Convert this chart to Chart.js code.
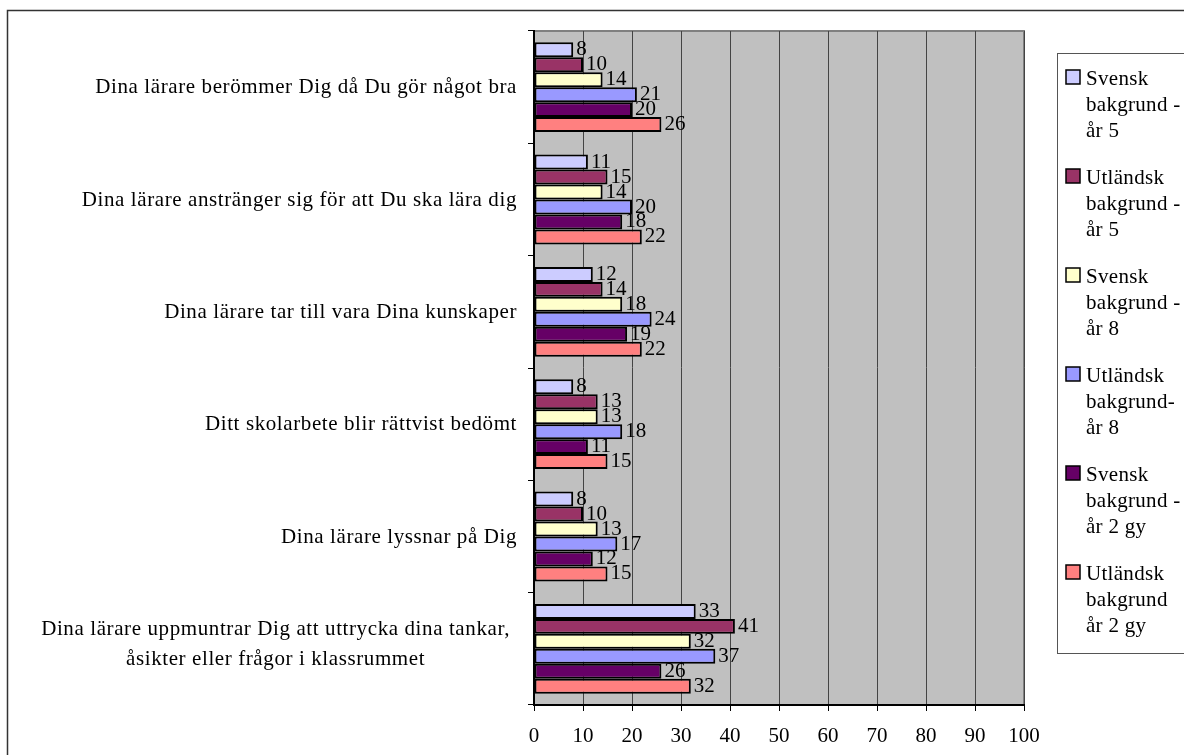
<!DOCTYPE html>
<html>
<head>
<meta charset="utf-8">
<script src="https://cdn.jsdelivr.net/npm/chart.js@4/dist/chart.umd.min.js"></script>
<style>
  html, body { margin: 0; padding: 0; background: #fff; }
  #wrap { width: 1184px; height: 755px; position: relative; }
</style>
</head>
<body>
<div id="wrap"><canvas id="chart"></canvas></div>
<script>
// Data
const categories = [
  ['Dina lärare berömmer Dig då Du gör något bra'],
  ['Dina lärare anstränger sig för att Du ska lära dig'],
  ['Dina lärare tar till vara Dina kunskaper '],
  ['Ditt skolarbete blir rättvist bedömt '],
  ['Dina lärare lyssnar på Dig'],
  ['Dina lärare uppmuntrar Dig att uttrycka dina tankar,', 'åsikter eller frågor i klassrummet']
];
const seriesNames = [
  ['Svensk', 'bakgrund -', 'år 5'],
  ['Utländsk', 'bakgrund -', 'år 5'],
  ['Svensk', 'bakgrund -', 'år 8'],
  ['Utländsk', 'bakgrund-', 'år 8'],
  ['Svensk', 'bakgrund -', 'år 2 gy'],
  ['Utländsk', 'bakgrund', 'år 2 gy']
];
const svenskAr5 = [8, 11, 12, 8, 8, 33];
const utlandskAr5 = [10, 15, 14, 13, 10, 41];
const svenskAr8 = [14, 14, 18, 13, 13, 32];
const utlandskAr8 = [21, 20, 24, 18, 17, 37];
const svenskGy2 = [20, 18, 19, 11, 12, 26];
const utlandskGy2 = [26, 22, 22, 15, 15, 32];
const xTicks = [0, 10, 20, 30, 40, 50, 60, 70, 80, 90, 100];

const seriesValues = [svenskAr5, utlandskAr5, svenskAr8, utlandskAr8, svenskGy2, utlandskGy2];
const colors = ['#CCCCFF', '#993366', '#FFFFCC', '#9999FF', '#660066', '#FF8080'];
const FONT = '"Liberation Serif", "Times New Roman", serif';

// Grey plot background + outer frame
const frame = {
  id: 'frame',
  beforeDraw(chart) {
    const ctx = chart.ctx, a = chart.chartArea;
    ctx.save();
    ctx.strokeStyle = '#333';
    ctx.lineWidth = 1.5;
    ctx.beginPath();
    ctx.moveTo(7.5, 760);
    ctx.lineTo(7.5, 10.5);
    ctx.lineTo(1190, 10.5);
    ctx.stroke();
    ctx.fillStyle = '#C0C0C0';
    ctx.fillRect(a.left, a.top, a.right - a.left, a.bottom - a.top);
    ctx.strokeStyle = '#808080';
    ctx.lineWidth = 2;
    ctx.strokeRect(a.left, a.top, a.right - a.left, a.bottom - a.top);
    ctx.restore();
  }
};

// Category labels: right-aligned block, lines centered within the block
const categoryLabels = {
  id: 'categoryLabels',
  afterDraw(chart) {
    const ctx = chart.ctx, y = chart.scales.y;
    ctx.save();
    ctx.font = '21px ' + FONT;
    ctx.letterSpacing = '0.6px';
    ctx.fillStyle = '#000';
    ctx.textAlign = 'center';
    ctx.textBaseline = 'alphabetic';
    categories.forEach((lines, i) => {
      const cy = y.getPixelForValue(i);
      const w = Math.max(...lines.map(l => ctx.measureText(l.trimEnd()).width));
      const right = lines.length > 1 ? 510 : 517;
      const cx = right - w / 2;
      const lh = 30;
      const first = cy + 6 - (lines.length - 1) * lh / 2 - (lines.length > 1 ? 5 : 0);
      lines.forEach((l, k) => ctx.fillText(l.trimEnd(), cx, first + k * lh));
    });
    ctx.restore();
  }
};

// Value labels at bar ends
const valueLabels = {
  id: 'valueLabels',
  afterDatasetsDraw(chart) {
    const ctx = chart.ctx;
    ctx.save();
    ctx.font = '21px ' + FONT;
    ctx.fillStyle = '#000';
    ctx.textBaseline = 'middle';
    ctx.textAlign = 'left';
    chart.data.datasets.forEach((ds, i) => {
      chart.getDatasetMeta(i).data.forEach((bar, j) => {
        ctx.fillText(String(ds.data[j]), bar.x + 3, bar.y);
      });
    });
    ctx.restore();
  }
};

// Legend box on the right
const sideLegend = {
  id: 'sideLegend',
  afterDraw(chart) {
    const ctx = chart.ctx;
    ctx.save();
    ctx.strokeStyle = '#555';
    ctx.lineWidth = 1;
    ctx.strokeRect(1057.5, 53.5, 140, 600);
    ctx.font = '21px ' + FONT;
    ctx.letterSpacing = '0.3px';
    ctx.textBaseline = 'alphabetic';
    chart.data.datasets.forEach((ds, i) => {
      const base = 85 + i * 99;
      ctx.fillStyle = ds.backgroundColor;
      ctx.fillRect(1066, base - 15, 14, 14);
      ctx.strokeStyle = '#000';
      ctx.lineWidth = 1.5;
      ctx.strokeRect(1066, base - 15, 14, 14);
      ctx.fillStyle = '#000';
      seriesNames[i].forEach((line, k) => {
        ctx.fillText(line, 1086, base + k * 26);
      });
    });
    ctx.restore();
  }
};

new Chart(document.getElementById('chart'), {
  type: 'bar',
  data: {
    labels: categories.map(c => c.join(' ')),
    datasets: seriesValues.map((vals, i) => ({
      label: seriesNames[i].join(' '),
      data: vals,
      backgroundColor: colors[i],
      borderColor: '#000',
      borderWidth: 2,
      borderSkipped: false,
      categoryPercentage: 0.8,
      barPercentage: 1
    }))
  },
  options: {
    indexAxis: 'y',
    responsive: true,
    maintainAspectRatio: false,
    animation: false,
    layout: { padding: { top: 31, right: 160, bottom: 0, left: 0 } },
    plugins: { legend: { display: false }, tooltip: { enabled: false } },
    scales: {
      x: {
        min: 0,
        max: 100,
        afterBuildTicks: axis => { axis.ticks = xTicks.map(v => ({ value: v })); },
        afterFit: axis => { axis.height = 50; },
        ticks: { color: '#000', font: { family: FONT, size: 21 }, padding: 13, maxRotation: 0 },
        grid: { color: '#444', lineWidth: 1, tickLength: 6, tickColor: '#000' },
        border: { color: '#000', width: 2 }
      },
      y: {
        afterFit: axis => { axis.width = 534; },
        ticks: { display: false },
        grid: { offset: true, drawOnChartArea: false, tickLength: 6, tickColor: '#000' },
        border: { color: '#000', width: 2 }
      }
    }
  },
  plugins: [frame, categoryLabels, valueLabels, sideLegend]
});
</script>
</body>
</html>
